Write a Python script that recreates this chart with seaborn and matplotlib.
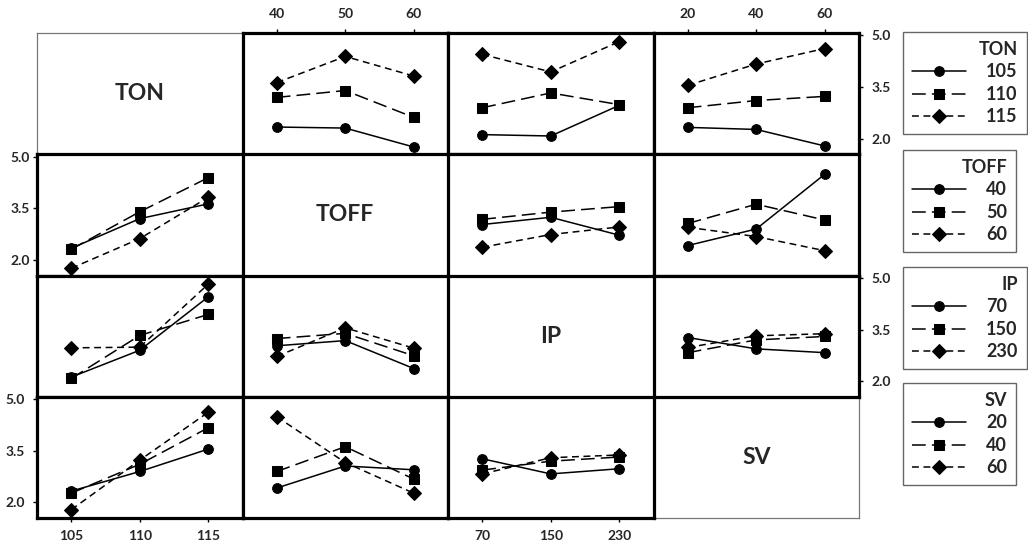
import numpy as np
import pandas as pd
import matplotlib
matplotlib.use("Agg")
import matplotlib.pyplot as plt
import seaborn as sns

# ---------------- data ----------------
factors = ["TON", "TOFF", "IP", "SV"]
ton_levels = ["105", "110", "115"]
toff_levels = ["40", "50", "60"]
ip_levels = ["70", "150", "230"]
sv_levels = ["20", "40", "60"]

# mean response: rows = levels of first factor (lines), cols = levels of second factor (x)
ton_by_toff = [[2.34, 2.31, 1.76],
               [3.20, 3.40, 2.62],
               [3.63, 4.39, 3.82]]
ton_by_ip = [[2.12, 2.08, 2.97],
             [2.90, 3.33, 2.99],
             [4.45, 3.94, 4.82]]
ton_by_sv = [[2.33, 2.27, 1.79],
             [2.90, 3.11, 3.23],
             [3.55, 4.17, 4.62]]
toff_by_ip = [[3.03, 3.24, 2.72],
              [3.18, 3.39, 3.55],
              [2.37, 2.74, 2.96]]
toff_by_sv = [[2.42, 2.90, 4.49],
              [3.06, 3.62, 3.16],
              [2.95, 2.68, 2.27]]
ip_by_sv = [[3.27, 2.94, 2.83],
            [2.83, 3.20, 3.30],
            [2.98, 3.32, 3.38]]

y_ticks = [2.0, 3.5, 5.0]
y_tick_labels = ["2.0", "3.5", "5.0"]

levels = {"TON": ton_levels, "TOFF": toff_levels, "IP": ip_levels, "SV": sv_levels}
pairs = {("TON", "TOFF"): ton_by_toff, ("TON", "IP"): ton_by_ip, ("TON", "SV"): ton_by_sv,
         ("TOFF", "IP"): toff_by_ip, ("TOFF", "SV"): toff_by_sv, ("IP", "SV"): ip_by_sv}


def panel_table(line_f, x_f):
    if (line_f, x_f) in pairs:
        m = np.array(pairs[(line_f, x_f)])
    else:
        m = np.array(pairs[(x_f, line_f)]).T
    rows = []
    for a, la in enumerate(levels[line_f]):
        for b, lb in enumerate(levels[x_f]):
            rows.append({"line": la, "xpos": b, "mean": m[a, b]})
    return pd.DataFrame(rows)


# ---------------- style ----------------
sns.set_style("white")
plt.rcParams["font.family"] = ["Lato", "DejaVu Sans"]
plt.rcParams["font.weight"] = "bold"

W, H = 1028, 544
fig = plt.figure(figsize=(W / 100, H / 100), dpi=100)
gs = fig.add_gridspec(4, 4, left=37 / W, right=859 / W, top=1 - 33 / H, bottom=1 - 518 / H,
                      wspace=0, hspace=0)

markers = ["o", "s", "D"]
dashes = ["", (9, 4), (4.5, 3)]
tick_font = dict(fontsize=10, fontweight="bold")
legend_tops = [32, 150, 267, 383]

for i, fi in enumerate(factors):
    legend_ax = None
    for j, fj in enumerate(factors):
        ax = fig.add_subplot(gs[i, j])
        ax.set_xlim(-0.5, 2.5)
        ax.set_ylim(1.55, 5.07)
        ax.set_xticks([0, 1, 2])
        ax.set_yticks(y_ticks)
        ax.tick_params(left=False, bottom=False, right=False, top=False,
                       labelleft=False, labelbottom=False, labelright=False, labeltop=False,
                       length=3, width=1, color="black", direction="out", pad=2)
        ax.set_xlabel("")
        ax.set_ylabel("")
        if i == j:
            ax.set_zorder(0)
            for s in ax.spines.values():
                s.set_linewidth(0.9)
                s.set_color("#777777")
            ax.text(0.5, 0.5, fi, transform=ax.transAxes, ha="center", va="center",
                    fontsize=16.5, fontweight="bold")
            continue
        ax.set_zorder(1)
        df = panel_table(fi, fj)
        sns.lineplot(data=df, x="xpos", y="mean", style="line", style_order=levels[fi],
                     markers=markers, dashes=dashes, color="black", linewidth=1.1,
                     markersize=7, markeredgecolor="black", legend=False, ax=ax)
        ax.set_xlabel("")
        ax.set_ylabel("")
        for s in ax.spines.values():
            s.set_linewidth(2.3)
            s.set_color("black")
        if legend_ax is None:
            legend_ax = ax
        # axis labels on the outer edges, alternating as in the original
        if j == 0 and i in (1, 3):
            ax.tick_params(left=True, labelleft=True)
            ax.set_yticklabels(y_tick_labels, **tick_font)
        if j == 3 and i in (0, 2):
            ax.tick_params(right=True, labelright=True, pad=6)
            ax.set_yticklabels(y_tick_labels, **tick_font)
        if i == 0 and j in (1, 3):
            ax.tick_params(top=True, labeltop=True, pad=6)
            ax.set_xticklabels(levels[fj], **tick_font)
        if i == 3 and j in (0, 2):
            ax.tick_params(bottom=True, labelbottom=True, pad=6)
            ax.set_xticklabels(levels[fj], **tick_font)

    handles = legend_ax.get_lines()[:3]
    leg = fig.legend(handles, levels[fi], title=fi, loc="upper left",
                     bbox_to_anchor=(903 / W, 1 - legend_tops[i] / H),
                     bbox_transform=fig.transFigure, frameon=True, fancybox=False,
                     edgecolor="#666666", framealpha=1,
                     prop=dict(weight="bold", size=13),
                     title_fontproperties=dict(weight="bold", size=13),
                     handlelength=3.0, handletextpad=1.1, labelspacing=0.3,
                     borderpad=0.5, borderaxespad=0, alignment="right")
    leg.get_frame().set_linewidth(1.0)

fig.savefig("out.png", dpi=100)
